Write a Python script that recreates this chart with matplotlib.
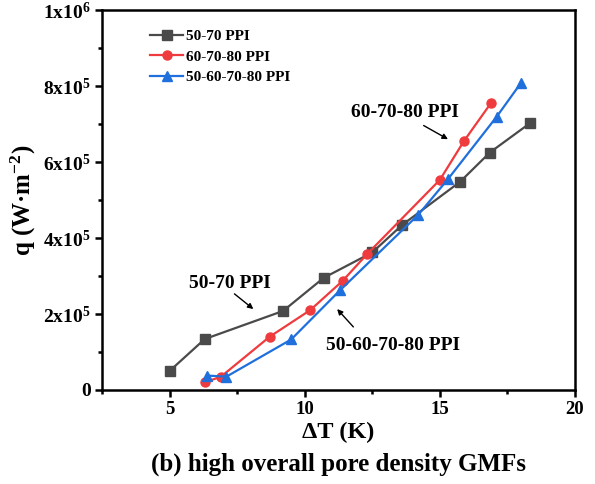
import matplotlib
matplotlib.use("Agg")
import matplotlib.pyplot as plt
from matplotlib.ticker import FixedLocator

plt.rcParams['font.family'] = ['Liberation Serif', 'DejaVu Serif']
plt.rcParams['font.weight'] = 'bold'
plt.rcParams['mathtext.fontset'] = 'custom'
plt.rcParams['mathtext.rm'] = 'Liberation Serif:bold'
plt.rcParams['mathtext.it'] = 'Liberation Serif:bold'
plt.rcParams['mathtext.bf'] = 'Liberation Serif:bold'
plt.rcParams['mathtext.default'] = 'regular'

# Data
dt_5070 = [5.0, 6.3, 9.2, 10.7, 12.5, 13.6, 15.75, 16.85, 18.35]
q_5070 = [50e3, 134e3, 208e3, 295e3, 362e3, 434e3, 548e3, 625e3, 703e3]

dt_607080 = [6.3, 6.9, 8.7, 10.2, 11.4, 12.3, 15.0, 15.9, 16.9]
q_607080 = [20e3, 35e3, 140e3, 210e3, 287e3, 357e3, 553e3, 656e3, 756e3]

dt_50607080 = [6.4, 7.1, 9.5, 11.3, 14.2, 15.3, 17.1, 18.0]
q_50607080 = [38e3, 35e3, 133e3, 262e3, 461e3, 555e3, 719e3, 808e3]

labels = ['50-70 PPI', '60-70-80 PPI', '50-60-70-80 PPI']
colors = ['#4a4a4a', '#ef3b3e', '#1f6fdc']

xticks = [5, 10, 15, 20]
yticks = [0, 2e5, 4e5, 6e5, 8e5, 1e6]
yticklabels = ['0', r'2x10$^5$', r'4x10$^5$', r'6x10$^5$', r'8x10$^5$', r'1x10$^6$']

fig = plt.figure(figsize=(5.95, 4.84), dpi=100)
ax = fig.add_axes([102/595, 1-390/484, (575-102)/595, (390-10)/484])

ax.plot(dt_5070, q_5070, '-s', color=colors[0], lw=1.6, ms=6.5, label=labels[0])
ax.plot(dt_607080, q_607080, '-o', color=colors[1], lw=1.6, ms=6.5, label=labels[1])
ax.plot(dt_50607080, q_50607080, '-^', color=colors[2], lw=1.6, ms=6.5, label=labels[2])

ax.set_xlim(2.5, 20)
ax.set_ylim(0, 1e6)
ax.xaxis.set_major_locator(FixedLocator(xticks))
ax.xaxis.set_minor_locator(FixedLocator([2.5, 7.5, 12.5, 17.5]))
ax.yaxis.set_major_locator(FixedLocator(yticks))
ax.yaxis.set_minor_locator(FixedLocator([1e5, 3e5, 5e5, 7e5, 9e5]))
ax.set_yticklabels(yticklabels)
ax.set_xticklabels([str(t) for t in xticks])
for s in ax.spines.values():
    s.set_linewidth(1.8)
ax.tick_params(which='major', direction='out', length=5, width=1.8, pad=3)
ax.tick_params(axis='x', which='major', labelsize=13.5)
ax.tick_params(axis='y', which='major', labelsize=14)
ax.tick_params(which='minor', direction='out', length=3, width=1.8)

ax.set_xlabel('ΔT (K)', fontsize=17.5, fontweight='bold', labelpad=3)
ax.set_ylabel('q (W·m$^{-2}$)', fontsize=18, fontweight='bold', labelpad=4)
fig.text((102+575)/2/595, 1-464/484, '(b) high overall pore density GMFs',
         ha='center', va='center', fontsize=18, fontweight='bold')

leg = ax.legend(loc='upper left', bbox_to_anchor=(0.072, 0.985), frameon=False,
                prop={'size': 11, 'weight': 'bold'}, handlelength=2.2,
                labelspacing=0.45, handletextpad=0.15)

arrow = dict(arrowstyle='-|>', color='black', lw=1, mutation_scale=8, shrinkA=0, shrinkB=0)

ax.text(13.72, 729e3, '60-70-80 PPI', ha='center', va='center', fontsize=14, fontweight='bold')
ax.annotate('', xy=(15.3, 660e3), xytext=(14.4, 696e3), arrowprops=arrow)

ax.text(7.23, 279e3, '50-70 PPI', ha='center', va='center', fontsize=14, fontweight='bold')
ax.annotate('', xy=(8.1, 213e3), xytext=(7.4, 253e3), arrowprops=arrow)

ax.text(13.28, 118e3, '50-60-70-80 PPI', ha='center', va='center', fontsize=14, fontweight='bold')
ax.annotate('', xy=(11.2, 213e3), xytext=(11.8, 166e3), arrowprops=arrow)

fig.savefig('out.png', dpi=100)
